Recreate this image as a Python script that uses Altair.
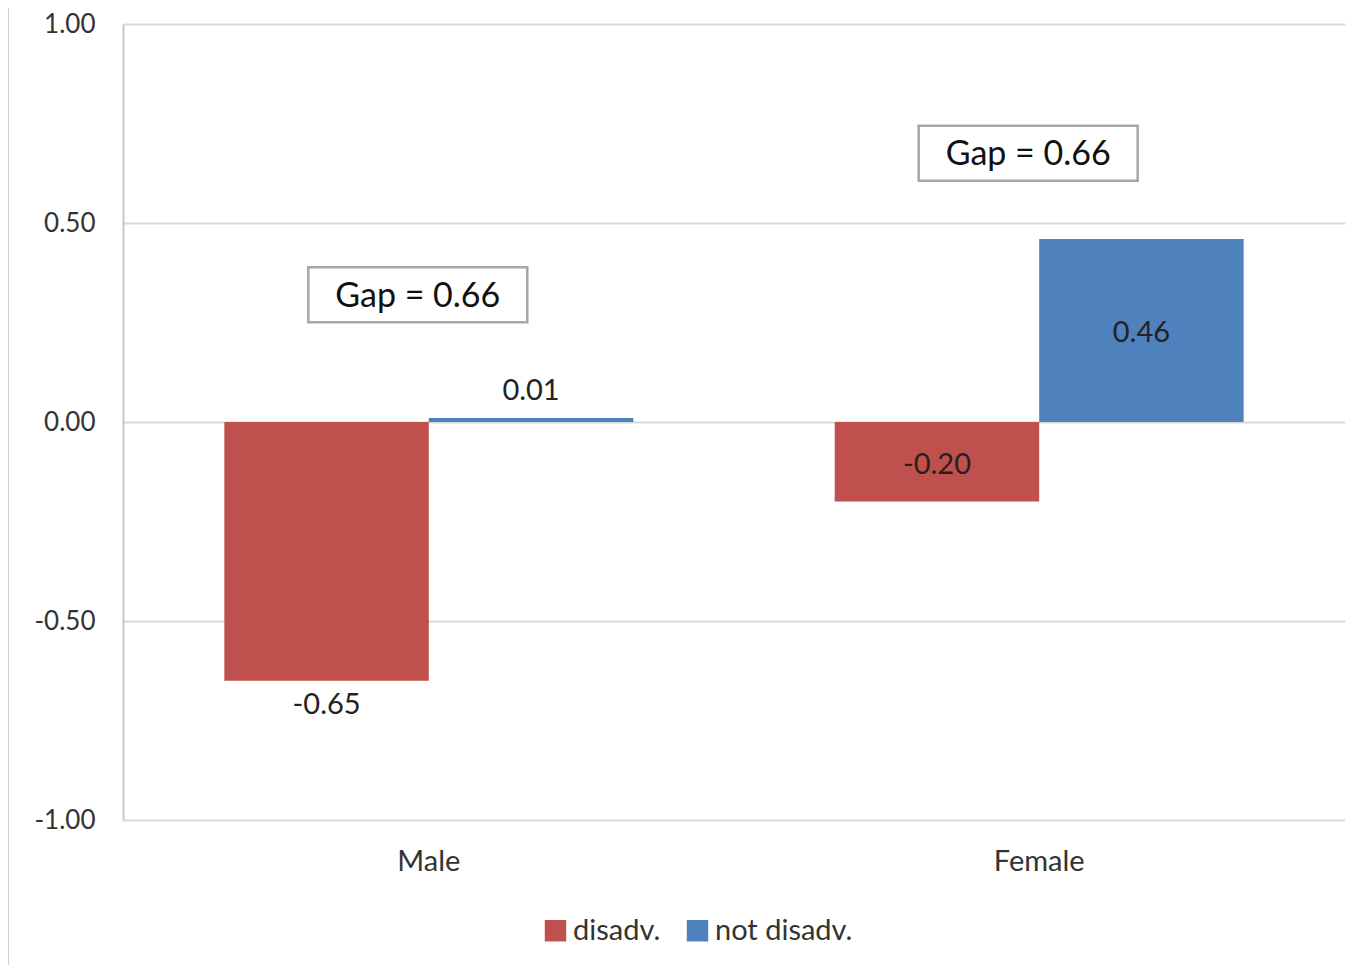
import altair as alt
import pandas as pd

categories = ["Male", "Male", "Female", "Female"]
groups = ["disadv.", "not disadv.", "disadv.", "not disadv."]
values = [-0.65, 0.01, -0.20, 0.46]
value_labels = ["-0.65", "0.01", "-0.20", "0.46"]

gap_categories = ["Male", "Female"]
gap_texts = ["Gap = 0.66", "Gap = 0.66"]
gap_levels = [0.32, 0.675]

cat_order = ["Male", "Female"]
group_order = ["disadv.", "not disadv."]
colors = ["#C0504D", "#4F81BD"]
y_ticks = [-1.0, -0.5, 0.0, 0.5, 1.0]

FONT = "Lato"
W, H = 1222, 796

df = pd.DataFrame({"category": categories, "group": groups, "value": values, "label": value_labels})
gap_df = pd.DataFrame({"category": gap_categories, "text": gap_texts, "level": gap_levels})

x_scale = alt.Scale(domain=cat_order, paddingInner=0.33, paddingOuter=0.166)
y_scale = alt.Scale(domain=[-1, 1], nice=False)

base = alt.Chart(df)

bars = base.mark_bar().encode(
    x=alt.X("category:N", sort=cat_order, scale=x_scale,
            axis=alt.Axis(title=None, domain=False, ticks=False, labelAngle=0,
                          labelFontSize=29, labelFont=FONT, labelColor="#333333",
                          labelPadding=27)),
    xOffset=alt.XOffset("group:N", sort=group_order, scale=alt.Scale(domain=group_order, paddingInner=0, paddingOuter=0)),
    y=alt.Y("value:Q", scale=y_scale,
            axis=alt.Axis(title=None, values=y_ticks,
                          labelExpr="datum.value < 0 ? '-' + format(-datum.value, '.2f') : format(datum.value, '.2f')",
                          grid=True, gridColor="#D9D9D9", gridWidth=2, domain=True,
                          domainColor="#C8C8C8", domainWidth=2, ticks=False,
                          labelFontSize=26, labelFont=FONT, labelColor="#333333",
                          labelPadding=28)),
    color=alt.Color("group:N", sort=group_order,
                    scale=alt.Scale(domain=group_order, range=colors),
                    legend=alt.Legend(title=None, orient="none", legendX=418, legendY=892,
                                      direction="horizontal", symbolType="square",
                                      symbolSize=460, symbolStrokeWidth=0,
                                      labelFontSize=29, labelFont=FONT, labelColor="#333333",
                                      columnPadding=22, labelOffset=3)),
)

text_common = dict(fontSize=29, font=FONT, color="#222222", baseline="middle", align="center")

center_labels = base.transform_filter(alt.datum.category == "Female").transform_calculate(
    mid="datum.value / 2").mark_text(dy=3, **text_common).encode(
    x=alt.X("category:N", sort=cat_order, scale=x_scale),
    xOffset=alt.XOffset("group:N", sort=group_order),
    y=alt.Y("mid:Q", scale=y_scale),
    text="label:N",
)

pos_labels = base.transform_filter((alt.datum.category == "Male") & (alt.datum.value > 0)).mark_text(
    dy=-27, **text_common).encode(
    x=alt.X("category:N", sort=cat_order, scale=x_scale),
    xOffset=alt.XOffset("group:N", sort=group_order),
    y=alt.Y("value:Q", scale=y_scale),
    text="label:N",
)

neg_labels = base.transform_filter((alt.datum.category == "Male") & (alt.datum.value < 0)).mark_text(
    dy=24, **text_common).encode(
    x=alt.X("category:N", sort=cat_order, scale=x_scale),
    xOffset=alt.XOffset("group:N", sort=group_order),
    y=alt.Y("value:Q", scale=y_scale),
    text="label:N",
)

box_w, box_h = 219, 55
shift = 11
r = round(box_h / box_w, 4)
sx = round(shift / (box_w / 2), 4)
box_path = "M{a},-{r} L{b},-{r} L{b},{r} L{a},{r} Z".format(a=round(-1 - sx, 4), b=round(1 - sx, 4), r=r)

gap_box = alt.Chart(gap_df).mark_point(
    shape=box_path, size=box_w * box_w, filled=True, fill="white", stroke="#A6A6A6",
    strokeWidth=2.5, opacity=1).encode(
    x=alt.X("category:N", sort=cat_order, scale=x_scale),
    y=alt.Y("level:Q", scale=y_scale),
)

gap_text = alt.Chart(gap_df).mark_text(fontSize=34, font=FONT, color="#111111",
                                       baseline="middle", align="center", dx=-shift, dy=2).encode(
    x=alt.X("category:N", sort=cat_order, scale=x_scale),
    y=alt.Y("level:Q", scale=y_scale),
    text="text:N",
)

border = alt.Chart(df).mark_rule(color="#D0D0D0", strokeWidth=2).encode(
    x=alt.value(-115), y=alt.value(-16), y2=alt.value(H + 145))

chart = alt.layer(bars, center_labels, pos_labels, neg_labels, gap_box, gap_text, border).properties(
    width=W, height=H,
    autosize=alt.AutoSizeParams(type="none"),
    padding={"left": 115, "top": 16, "right": 10, "bottom": 145},
).configure_view(stroke=None).configure_axis(labelFont=FONT)

chart.save("out.html", embed_options={"renderer": "svg", "actions": False})
